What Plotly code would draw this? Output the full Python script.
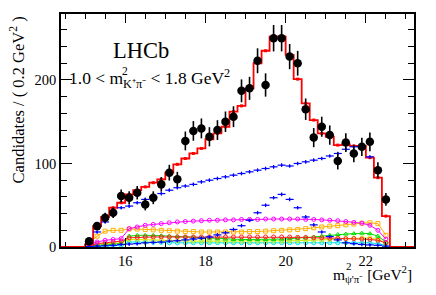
import plotly.graph_objects as go

# bin centres (GeV^2), bin width 0.2
bin_centers = [15.1, 15.3, 15.5, 15.7, 15.9, 16.1, 16.3, 16.5, 16.7, 16.9,
               17.1, 17.3, 17.5, 17.7, 17.9, 18.1, 18.3, 18.5, 18.7, 18.9,
               19.1, 19.3, 19.5, 19.7, 19.9, 20.1, 20.3, 20.5, 20.7, 20.9,
               21.1, 21.3, 21.5, 21.7, 21.9, 22.1, 22.3, 22.5]
bin_width = 0.2
x_min, x_max = 14.4, 23.2

data_counts = [7, 25, 35, 41, 61, 59, 65, 51, 59, 75,
               89, 81, 127, 139, 142, 132, 140, 150, 156, 187,
               190, 223, 194, 250, 250, 228, 220, 165, 131, 144,
               134, 103, 125, 112, 120, 126, 92, 57]

fit_total = [3, 25, 36, 47, 53, 63, 68, 72, 77, 81,
             89, 99, 106, 112, 118, 129, 136, 144, 162, 169,
             190, 220, 235, 252, 252, 230, 201, 172, 152, 136,
             132, 122, 123, 121, 121, 107, 83, 37]

bkg_blue = [4, 18, 30, 41, 47, 49, 53, 57, 60, 64,
            68, 71, 73, 75, 78, 80, 82, 84, 86, 88,
            90, 92, 94, 96, 98, 97, 100, 102, 104, 106,
            109, 112, 117, 120, 120, 108, None, None]

peak_blue = [0.5, 1, 1.5, 2, 3, 3.5, 4, 5, 5.5, 6,
             7, 7.5, 8.5, 9.5, 10.5, 12, 14.5, 17, 21, 25.5,
             32, 41, 50, 59, 63, 57, 47, 36, 26.5, 18,
             12.5, 8.5, 5, 4, 3, 2.5, 2, 1]

comp_magenta = [3, 6, 8, 9, 10, 22, 24, 26, 27, 28,
                29, 30, 30.5, 31, 31.5, 32, 32, 32.5, 32.5, 33,
                33, 33, 33.5, 33.5, 33.5, 33.5, 33.5, 33, 33, 32.5,
                32, 31.5, 30.5, 29.5, 28.5, 26, 20, 9.5]

comp_orange = [5, 13, 19, 20, 20, 21.5, 21.5, 21, 20.5, 20,
               19.5, 19, 18.5, 18.5, 18, 18, 18, 18, 18, 18,
               18.5, 18.5, 19, 19.5, 20, 20.5, 21, 22, 23, 24,
               25, 25.5, 26.5, 27.5, 28.5, 29, 28, 14]

comp_red = [1, 4, 5, 6, 7, 11, 11.5, 12, 12, 12,
            12, 12, 12, 12, 12, 12, 12, 12, 12, 12,
            12, 12, 12, 12, 12, 12, 11.5, 11.5, 11, 11,
            10.5, 10.5, 10, 10, 9.5, 9, 8, 5]

comp_green = [0.5, 2, 3, 3.5, 4, 13, 14, 14, 14, 13.5,
              13, 12.5, 12, 11.5, 11, 10.5, 10, 9.5, 9, 9,
              9, 9, 9, 9, 9.5, 10, 10.5, 11, 12, 13,
              14, 15, 15.5, 16, 16.5, 16, 13, 6]

comp_yellowgreen = [1, 3, 4, 4.5, 5, 9, 9, 8.5, 8.5, 8,
                    8, 7.5, 7.5, 7, 7, 7, 7, 7, 7, 7,
                    7, 7, 7, 7, 7, 7.5, 7.5, 8, 8, 8.5,
                    9, 9.5, 10, 10.5, 11, 11, 9, 5]

comp_cyan = [0.5, 1, 1.5, 2, 2, 6, 6, 5.5, 5.5, 5.5,
             5, 5, 5, 5, 5, 5, 5, 5, 5, 5,
             5, 5, 5, 5, 5, 5, 5, 5, 5, 5,
             5, 5, 5, 5, 5, 5, 4, 2]

y_ticks = [0, 100, 200]
x_ticks = [16, 18, 20, 22]

FONT = "Liberation Serif"

fig = go.Figure()

components = [
    (comp_cyan, "#00e5ee", "circle-open"),
    (comp_yellowgreen, "#ccee00", "circle-open"),
    (comp_green, "#00dd00", "triangle-up-open"),
    (comp_red, "#ff2020", "circle-open"),
    (comp_orange, "#ffb000", "square-open"),
    (comp_magenta, "#ff00ff", "circle-open"),
]
for vals, col, sym in components:
    fig.add_trace(go.Scatter(
        x=bin_centers, y=vals, mode="lines+markers",
        line=dict(color=col, width=1),
        marker=dict(symbol=sym, size=4, color=col, line=dict(width=1, color=col)),
        showlegend=False, hoverinfo="skip"))

# total fit as step histogram spanning the whole axis
step_x = [x_min] + [c - bin_width / 2 for c in bin_centers] + [bin_centers[-1] + bin_width / 2, x_max]
step_y = [0] + fit_total + [0, 0]
fig.add_trace(go.Scatter(
    x=step_x, y=step_y, mode="lines", line=dict(color="#ff0000", width=1.8, shape="hv"),
    showlegend=False, hoverinfo="skip"))
fig.add_trace(go.Scatter(
    x=bin_centers, y=fit_total, mode="markers",
    marker=dict(symbol="square", size=3, color="#ff0000"),
    error_x=dict(type="constant", value=0.04, color="#ff0000", thickness=1, width=0),
    showlegend=False, hoverinfo="skip"))

# blue components drawn as crosses (bin-width horizontal bars)
for vals in (bkg_blue, peak_blue):
    fig.add_trace(go.Scatter(
        x=bin_centers, y=vals, mode="markers",
        marker=dict(size=2, color="#0000ff"),
        error_x=dict(type="constant", value=bin_width / 2, color="#0000ff", thickness=1.2, width=0),
        error_y=dict(type="constant", value=2.2, color="#0000ff", thickness=1.2, width=0),
        showlegend=False, hoverinfo="skip"))

# data
fig.add_trace(go.Scatter(
    x=bin_centers, y=data_counts, mode="markers",
    marker=dict(symbol="circle", size=8.5, color="black"),
    error_y=dict(type="sqrt", color="black", thickness=1.6, width=0),
    showlegend=False, hoverinfo="skip"))

axis_common = dict(
    showline=True, linecolor="black", linewidth=1.5, mirror="allticks",
    ticks="inside", tickcolor="black", tickwidth=1.2,
    showgrid=False, zeroline=False, automargin=False,
    tickfont=dict(family=FONT, size=14.5, color="black"),
)
fig.update_xaxes(range=[x_min, x_max], tickvals=x_ticks, ticklen=9,
                 minor=dict(ticks="inside", dtick=0.5, tick0=0, ticklen=5,
                            tickcolor="black", tickwidth=1.2, showgrid=False),
                 **axis_common)
fig.update_yaxes(range=[0, 279], tickvals=y_ticks, ticklen=11,
                 minor=dict(ticks="inside", dtick=20, tick0=0, ticklen=6,
                            tickcolor="black", tickwidth=1.2, showgrid=False),
                 **axis_common)

# page body has an 8px margin: figure sized to fit the 436x295 window
fig.update_layout(
    width=420, height=279,
    margin=dict(l=53, r=14, t=6, b=40, autoexpand=False),
    paper_bgcolor="white", plot_bgcolor="white",
    font=dict(family=FONT, color="black"),
    annotations=[
        dict(text="LHCb", x=0.227, y=0.845, xref="paper", yref="paper",
             xanchor="center", yanchor="middle",
             showarrow=False, font=dict(family=FONT, size=22.5)),
        dict(text="1.0 < m<sub>K⁺π⁻</sub> < 1.8 GeV<sup>2</sup>",
             x=0.016, y=0.725, xref="paper", yref="paper", xanchor="left", yanchor="middle",
             showarrow=False, font=dict(family=FONT, size=17.5)),
        dict(text="2", x=0.168, y=0.757, xref="paper", yref="paper",
             xanchor="left", yanchor="middle",
             showarrow=False, font=dict(family=FONT, size=11.5)),
        dict(text="m<sub>ψ'π⁻</sub> [GeV<sup>2</sup>]",
             x=1.0, y=-0.115, xref="paper", yref="paper", xanchor="right", yanchor="middle",
             showarrow=False, font=dict(family=FONT, size=15.5)),
        dict(text="2", x=0.803, y=-0.083, xref="paper", yref="paper",
             xanchor="left", yanchor="middle",
             showarrow=False, font=dict(family=FONT, size=11)),
        dict(text="Candidates / ( 0.2 GeV<sup>2</sup> )", textangle=-90,
             x=-0.122, y=1.0, xref="paper", yref="paper", xanchor="center", yanchor="top",
             showarrow=False, font=dict(family=FONT, size=16.5)),
    ],
)

fig.write_html("out.html")
